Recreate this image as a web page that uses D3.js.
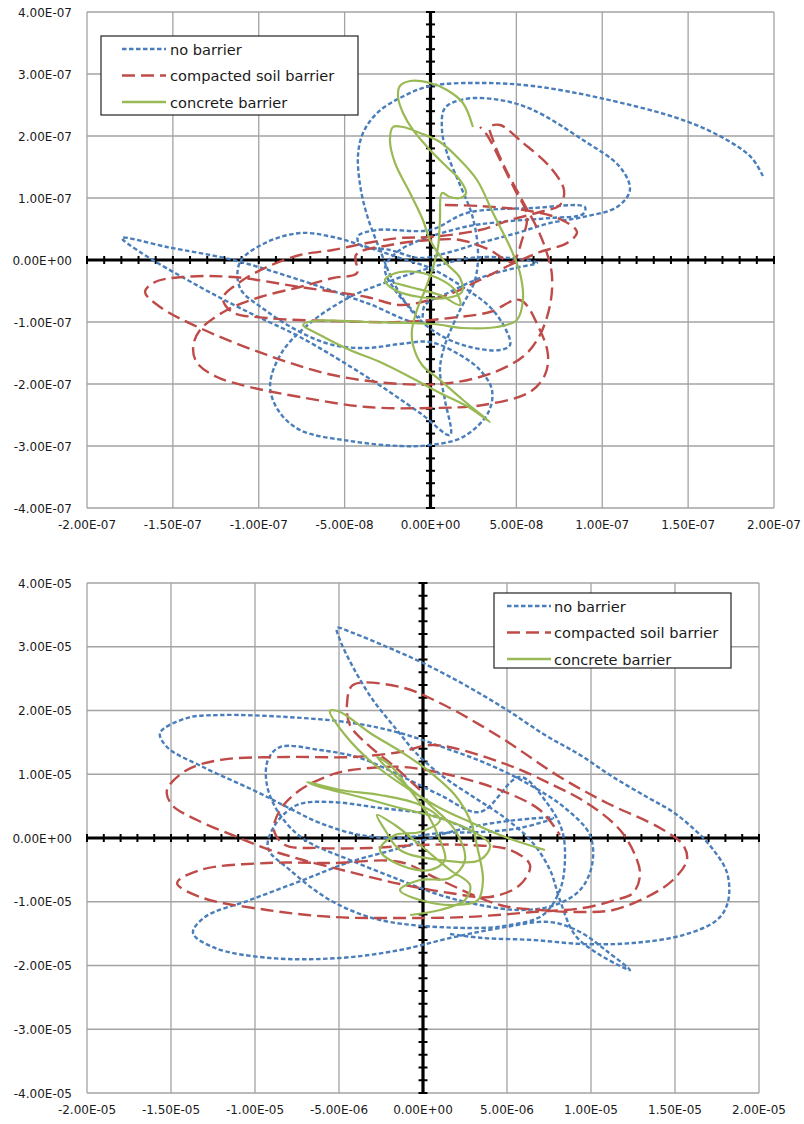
<!DOCTYPE html>
<html>
<head>
<meta charset="utf-8">
<script src="https://cdn.jsdelivr.net/npm/d3@7"></script>
<style>
body { margin: 0; background: #fff; }
svg text { font-family: "DejaVu Sans", Verdana, sans-serif; fill: #1a1a1a; }
</style>
</head>
<body>
<div id="chart"></div>
<script>
// series names and colours (same in both panels)
var seriesNames = ["no barrier", "compacted soil barrier", "concrete barrier"];
var seriesColors = ["#4A7EBB", "#BE4B48", "#98B954"];
var seriesDash = ["4.5,2.5", "13,6", null];

// top panel: values in units of 1e-8
var topUnit = 1e-8;
var topNoBarrier = [
  [19.35,13.55],[18.71,16.45],[17.26,19.35],[14.70,22.58],[9.87,26.13],[5.97,28.06],[3.06,28.55],[-0.03,28.06],
  [-1.78,26.13],[-3.11,23.71],[-3.93,20.48],[-4.22,16.94],[-4.10,12.10],[-3.70,7.26],[-2.94,1.61],[-2.07,-4.03],
  [-0.90,-8.87],[0.55,-12.10],[2.30,-14.03],[4.05,-14.52],[4.63,-13.71],[4.34,-10.97],[3.46,-7.58],[1.89,-4.35],
  [-0.03,-1.29],[-1.78,0.32],[-3.70,2.10],[-5.68,3.71],[-7.60,4.35],[-9.63,2.74],[-11.09,-0.32],[-11.09,-4.52],
  [-9.63,-8.06],[-7.60,-11.61],[-5.68,-13.71],[-3.70,-14.19],[-1.78,-13.55],[-0.03,-13.23],[1.72,-15.32],[2.88,-17.74],
  [3.58,-20.97],[3.35,-24.68],[1.89,-28.55],[-0.03,-29.84],[-1.78,-30.0],[-4.69,-29.19],[-7.60,-27.42],[-8.88,-24.19],
  [-9.34,-20.16],[-8.64,-14.84],[-7.01,-10.16],[-4.69,-5.97],[-2.36,-3.39],[0.15,-1.13],[2.30,0.32],[4.63,0.32],
  [6.20,-0.48],[4.92,-1.29],[2.88,-2.90],[1.14,-5.16],[-0.32,-7.26],[-0.61,-10.0],[-3.70,-6.94],[-7.60,-3.23],
  [-11.50,0],[-15.34,2.10],[-17.96,3.55],[-16.91,1.29],[-13.42,-4.35],[-10.51,-8.55],[-7.60,-12.42],[-3.70,-18.87],
  [-0.61,-24.68],[1.14,-28.23],[0.84,-22.58],[0.55,-17.74],[0.84,-13.71],[1.72,-8.06],[2.59,-3.23],[2.76,1.61],
  [2.42,7.26],[1.72,12.10],[0.96,17.26],[0.67,20.97],[0.84,24.52],[2.01,25.97],[4.05,25.81],[5.97,24.19],
  [8.88,19.35],[11.03,15.0],[11.61,11.29],[10.86,8.55],[8.88,6.94],[6.96,5.97],[5.03,4.35],[2.88,2.74],
  [1.14,1.29],[-0.61,0.32],[-2.36,1.61],[-4.10,2.42],[-4.22,3.87],[-3.11,4.84],[-0.03,4.84],[2.12,7.58],
  [5.97,8.39],[8.99,8.55],[8.88,7.42],[6.96,6.77],[4.05,6.13],[1.72,5.16],[-1.78,1.61],[-2.65,-1.29],
  [-2.07,-4.84],[-0.61,-9.35]
];
var topSoil = [
  [0.84,8.87],[2.88,8.71],[5.79,7.90],[7.54,6.61],[8.53,4.52],[7.95,2.74],[6.37,1.29],[4.63,-0.81],
  [2.88,-3.23],[1.43,-5.16],[-0.03,-6.45],[-1.78,-7.26],[-3.70,-5.97],[-7.60,-4.35],[-11.50,-2.74],[-14.41,-2.74],
  [-16.04,-3.55],[-16.62,-5.16],[-15.74,-7.58],[-13.42,-10.97],[-9.52,-15.32],[-5.68,-18.55],[-1.78,-20.0],[1.14,-19.84],
  [3.75,-18.06],[5.50,-15.32],[6.37,-12.10],[6.96,-7.26],[7.07,-2.42],[6.72,1.61],[6.26,4.84],[5.33,9.68],
  [4.34,14.84],[3.64,19.35],[3.46,21.45],[4.05,21.77],[5.33,19.03],[6.96,15.0],[7.77,11.29],[7.54,8.87],
  [6.37,7.74],[4.63,6.45],[2.88,4.84],[-0.03,3.71],[-1.78,3.55],[-3.70,2.74],[-5.68,1.61],[-7.60,0.81],
  [-9.52,-1.13],[-11.09,-3.55],[-12.08,-6.13],[-11.55,-8.39],[-9.52,-9.35],[-5.68,-9.84],[-1.78,-10.0],[1.14,-9.35],
  [3.46,-8.39],[5.21,-6.45],[6.37,-11.29],[6.84,-15.32],[6.66,-18.55],[5.79,-21.29],[3.06,-23.39],[0.15,-23.87],
  [-3.70,-23.71],[-7.60,-22.10],[-10.51,-20.48],[-12.43,-18.87],[-13.59,-16.61],[-13.82,-14.03],[-13.42,-11.29],[-11.85,-8.06],
  [-9.92,-5.97],[-7.60,-4.35],[-5.68,-2.90],[-4.28,-2.10],[-4.34,0.81],[-2.36,2.42],[-0.03,3.23],[1.72,3.23],
  [3.46,1.61],[4.74,-0.32],[5.33,3.23],[5.62,7.26],[4.92,11.29],[4.05,16.13],[3.29,20.16],[2.88,21.45]
];
var topConcrete = [
  [2.47,21.45],[1.89,25.32],[0.96,27.42],[-0.03,28.55],[-1.19,28.87],[-1.78,28.06],[-1.89,26.29],[-1.60,23.71],
  [-1.02,20.97],[-0.03,17.74],[0.96,15.0],[1.72,12.90],[2.07,10.81],[1.72,10.0],[1.14,10.16],[0.67,10.81],
  [0.55,6.45],[0.44,2.10],[0.15,-1.13],[-0.32,-4.84],[-0.79,-8.06],[-1.08,-11.29],[-1.02,-13.71],[-0.49,-16.94],
  [0.55,-19.35],[1.89,-22.58],[3.46,-26.13],[2.30,-23.87],[0.55,-21.45],[-1.19,-18.87],[-2.94,-16.45],[-4.69,-14.52],
  [-6.43,-12.10],[-7.42,-10.48],[-6.84,-9.84],[-3.70,-10.0],[0.15,-10.32],[1.89,-10.97],[3.87,-10.81],[5.03,-9.68],
  [5.38,-6.45],[5.21,-2.10],[4.63,2.10],[3.64,7.58],[2.71,12.90],[1.72,16.13],[0.55,19.03],[-0.61,20.48],
  [-1.60,21.45],[-2.18,21.45],[-2.36,19.35],[-2.07,15.65],[-1.19,10.81],[-0.44,6.45],[-0.03,3.23],[0.84,-0.32],
  [1.72,-2.90],[1.83,-5.16],[0.96,-6.13],[-0.61,-5.97],[-2.07,-4.84],[-2.65,-3.23],[-1.78,-1.94],[-0.03,-2.42],
  [1.43,-4.84],[1.72,-7.26],[0.55,-5.65],[-1.19,-4.35],[-2.07,-3.71]
];

// bottom panel: values in units of 1e-6
var bottomUnit = 1e-6;
var bottomNoBarrier = [
  [1.61,-15.06],[3.57,-15.69],[6.55,-16.0],[9.52,-16.63],[12.5,-16.47],[15.48,-15.22],[17.5,-12.86],[18.15,-10.04],
  [18.10,-5.49],[17.20,-1.57],[16.19,1.25],[14.88,4.08],[13.33,6.43],[11.31,9.57],[9.35,13.02],[7.26,16.16],
  [5.0,20.08],[2.5,24.0],[0,27.45],[-2.14,29.96],[-4.17,32.16],[-5.12,32.94],[-4.94,31.06],[-4.17,26.82],
  [-2.98,21.65],[-1.55,16.94],[-0.30,13.02],[1.31,9.41],[3.10,6.27],[4.88,3.14],[6.49,-0.63],[7.56,-5.02],
  [8.15,-9.73],[9.05,-15.22],[10.54,-18.35],[12.32,-20.71],[11.01,-17.88],[9.35,-14.75],[7.56,-13.18],[4.58,-14.12],
  [1.61,-15.69],[-1.37,-17.57],[-4.94,-18.82],[-9.11,-18.82],[-12.38,-17.25],[-13.69,-14.90],[-12.98,-12.39],[-10.30,-9.73],
  [-7.14,-6.59],[-4.35,-3.76],[-1.37,-1.57],[1.61,0.94],[4.58,2.51],[7.74,3.14],[5.77,1.57],[3.39,0.94],
  [1.01,0.78],[-1.37,0],[-3.75,0.47],[-6.13,2.35],[-8.10,4.86],[-10.12,7.53],[-13.10,11.14],[-15.24,14.27],
  [-15.65,16.47],[-14.05,18.82],[-12.08,19.29],[-8.10,18.98],[-4.17,18.04],[-1.37,16.47],[1.31,14.12],[3.99,11.45],
  [6.37,8.31],[8.45,4.71],[9.94,0.47],[10.06,-4.24],[9.35,-8.16],[7.86,-10.51],[5.77,-11.29],[3.39,-10.51],
  [1.01,-8.94],[-1.37,-6.59],[-4.35,-3.45],[-7.02,-0.31],[-8.51,3.61],[-9.29,8.31],[-9.23,12.24],[-8.51,14.27],
  [-6.13,13.80],[-3.75,12.55],[-1.19,9.57],[1.01,6.75],[3.39,4.08],[5.77,9.57],[7.38,5.49],[8.27,1.25],
  [8.45,-3.45],[8.15,-8.16],[7.14,-12.08],[5.18,-13.65],[2.80,-14.12],[-2.56,-12.86],[-5.54,-9.73],[-7.92,-5.02],
  [-9.23,-1.57],[-8.81,2.04],[-7.5,5.18],[-5.54,5.65],[-2.56,4.71],[0.42,3.61],[2.80,1.25]
];
var bottomSoil = [
  [-0.18,7.53],[-1.67,11.14],[-3.27,14.59],[-4.35,17.73],[-4.52,21.18],[-4.17,24.0],[-1.37,23.69],[1.01,21.18],
  [4.58,15.84],[8.15,9.57],[10.95,5.49],[14.11,1.57],[15.48,-1.10],[15.71,-3.45],[14.88,-6.59],[13.33,-9.25],
  [11.31,-11.29],[9.35,-11.61],[6.96,-11.29],[4.58,-10.51],[1.01,-6.59],[-1.37,-3.76],[-5.36,-3.92],[-9.29,-3.92],
  [-13.27,-5.02],[-14.64,-7.06],[-13.27,-9.25],[-9.29,-11.29],[-5.36,-12.39],[-1.37,-12.55],[2.62,-12.39],[6.55,-11.61],
  [9.52,-10.98],[11.43,-9.73],[12.5,-8.63],[12.92,-5.80],[12.62,-2.67],[11.73,1.25],[9.94,5.18],[7.74,8.31],
  [4.58,11.92],[0.60,14.59],[-1.37,13.49],[-4.17,12.71],[-8.10,12.71],[-12.08,12.24],[-14.05,10.67],[-15.24,7.53],
  [-14.94,5.18],[-13.45,2.82],[-11.07,0.16],[-9.11,-1.88],[-7.14,-3.45],[-4.35,-5.33],[-1.37,-7.22],[1.61,-8.63],
  [3.99,-9.25],[5.77,-7.37],[6.37,-4.24],[5.18,-1.88],[2.80,-1.10],[-0.18,-1.10],[-3.15,-1.57],[-6.13,-1.57],
  [-8.21,-1.10],[-8.87,1.25],[-8.51,4.39],[-7.32,7.53],[-5.12,10.20],[-3.15,10.98],[-1.19,11.14],[1.61,9.88],
  [4.58,7.53],[6.96,4.39],[8.15,0.47]
];
var bottomConcrete = [
  [7.26,-1.88],[4.88,0.16],[2.80,2.51],[1.01,4.71],[-0.77,7.53],[-2.86,11.45],[-4.64,16.16],[-5.54,19.92],
  [-4.94,19.76],[-3.15,16.47],[-1.19,13.33],[0.42,10.35],[1.90,6.75],[2.80,2.82],[3.27,-1.88],[3.57,-6.59],
  [3.27,-9.73],[1.90,-10.51],[-0.18,-9.73],[-1.37,-8.16],[-0.18,-6.59],[1.61,-6.27],[2.5,-3.45],[1.90,1.25],
  [0.42,5.18],[-1.37,9.10],[-2.74,12.71],[-1.96,11.45],[-0.77,7.53],[0.30,3.61],[1.01,-0.31],[1.31,-3.45],
  [0.42,-5.02],[-1.37,-4.24],[-2.56,-1.88],[-1.67,0.47],[-0.18,0.94],[1.01,2.82],[-0.18,5.18],[-2.56,6.75],
  [-4.94,7.53],[-6.90,8.78],[-6.13,8.0],[-3.75,6.43],[-1.37,4.71],[1.01,3.14],[2.80,1.25],[3.99,-1.10],
  [3.39,-3.45],[1.01,-3.45],[-1.37,-1.88],[-2.26,1.25],[-2.74,3.61],[-1.67,2.04],[-0.18,-1.10],[1.61,-5.02],
  [2.80,-7.37],[2.5,-9.73],[1.01,-11.29],[-0.77,-12.08]
];

// axis ticks (in panel units)
var xMajorTicks = d3.range(-20, 20.001, 5);
var yMajorTicks = d3.range(-40, 40.001, 10);
var xMinorTicks = d3.range(-20, 20.001, 1);
var yMinorTicks = d3.range(-40, 40.001, 2);

var panels = [
  { unit: topUnit, data: [topNoBarrier, topSoil, topConcrete],
    left: 87, right: 774, top: 12, bottom: 508,
    legend: { x: 101, y: 36, w: 257, h: 79, sample: 21, text: 69 } },
  { unit: bottomUnit, data: [bottomNoBarrier, bottomSoil, bottomConcrete],
    left: 87, right: 759, top: 583, bottom: 1093,
    legend: { x: 494, y: 593, w: 237, h: 75, sample: 13, text: 60 } }
];

var svg = d3.select("#chart").append("svg")
  .attr("width", 804)
  .attr("height", 1124);

function excelFormat(v) {
  var s = v.toExponential(2).toUpperCase();
  var parts = s.split("E");
  var sign = parts[1][0] === "-" ? "-" : "+";
  var exp = parts[1].replace("+", "").replace("-", "");
  if (exp.length < 2) exp = "0" + exp;
  return parts[0] + "E" + sign + exp;
}

panels.forEach(function(p) {
  var x = d3.scaleLinear().domain([-20, 20]).range([p.left, p.right]);
  var y = d3.scaleLinear().domain([-40, 40]).range([p.bottom, p.top]);
  var g = svg.append("g");

  //Grid lines.
  g.selectAll(".vgrid").data(xMajorTicks).enter().append("line")
    .attr("x1", function(d) { return x(d); }).attr("x2", function(d) { return x(d); })
    .attr("y1", p.top).attr("y2", p.bottom)
    .attr("stroke", "#a3a3a3").attr("stroke-width", 1.3);
  g.selectAll(".hgrid").data(yMajorTicks).enter().append("line")
    .attr("x1", p.left).attr("x2", p.right)
    .attr("y1", function(d) { return y(d); }).attr("y2", function(d) { return y(d); })
    .attr("stroke", "#a3a3a3").attr("stroke-width", 1.3);

  //Tick labels.
  g.selectAll(".ylab").data(yMajorTicks).enter().append("text")
    .attr("x", 72).attr("y", function(d) { return y(d) + 4.5; })
    .attr("text-anchor", "end").attr("font-size", 12)
    .text(function(d) { return excelFormat(d * p.unit); });
  g.selectAll(".xlab").data(xMajorTicks).enter().append("text")
    .attr("x", function(d) { return x(d); }).attr("y", p.bottom + 21)
    .attr("text-anchor", "middle").attr("font-size", 12)
    .text(function(d) { return excelFormat(d * p.unit); });

  //Zero axes with cross ticks.
  g.append("line").attr("x1", p.left).attr("x2", p.right)
    .attr("y1", y(0)).attr("y2", y(0)).attr("stroke", "#000").attr("stroke-width", 3.2);
  g.append("line").attr("x1", x(0)).attr("x2", x(0))
    .attr("y1", p.top).attr("y2", p.bottom).attr("stroke", "#000").attr("stroke-width", 3.2);
  g.selectAll(".xtick").data(xMinorTicks).enter().append("line")
    .attr("x1", function(d) { return x(d); }).attr("x2", function(d) { return x(d); })
    .attr("y1", y(0) - 4).attr("y2", y(0) + 4)
    .attr("stroke", "#000").attr("stroke-width", 2);
  g.selectAll(".ytick").data(yMinorTicks).enter().append("line")
    .attr("x1", x(0) - 4.5).attr("x2", x(0) + 4.5)
    .attr("y1", function(d) { return y(d); }).attr("y2", function(d) { return y(d); })
    .attr("stroke", "#000").attr("stroke-width", 2);

  //Series.
  var line = d3.line()
    .x(function(d) { return x(d[0]); })
    .y(function(d) { return y(d[1]); })
    .curve(d3.curveCatmullRom.alpha(0.5));
  p.data.forEach(function(s, i) {
    g.append("path").attr("d", line(s))
      .attr("fill", "none")
      .attr("stroke", seriesColors[i])
      .attr("stroke-width", i === 2 ? 2.2 : 2.4)
      .attr("stroke-dasharray", seriesDash[i]);
  });

  //Legend.
  var L = p.legend;
  var lg = g.append("g").attr("transform", "translate(" + L.x + "," + L.y + ")");
  lg.append("rect").attr("width", L.w).attr("height", L.h)
    .attr("fill", "#fff").attr("stroke", "#222").attr("stroke-width", 1.2);
  seriesNames.forEach(function(name, i) {
    var ry = 13 + i * 26.5;
    lg.append("line").attr("x1", L.sample).attr("x2", L.sample + 44)
      .attr("y1", ry).attr("y2", ry)
      .attr("stroke", seriesColors[i]).attr("stroke-width", 2.4)
      .attr("stroke-dasharray", seriesDash[i]);
    lg.append("text").attr("x", L.text).attr("y", ry + 5.5)
      .attr("font-size", 14.6).text(name);
  });
});
</script>
</body>
</html>
